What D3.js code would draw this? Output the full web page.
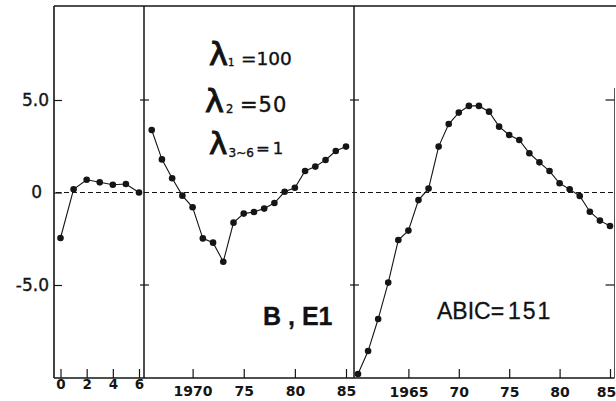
<!DOCTYPE html>
<html>
<head>
<meta charset="utf-8">
<script src="https://cdn.jsdelivr.net/npm/d3@7"></script>
<style>
  body { margin: 0; background: #fff; }
  text { fill: #111; }
</style>
</head>
<body>
<svg width="616" height="401"></svg>
<script>
// lag panel (0..6)
const lagX = [0, 1, 2, 3, 4, 5, 6];
const lagValues = [-2.46, 0.17, 0.69, 0.55, 0.42, 0.46, 0.0];

// middle panel, 1966-1985
const midYears = [1966, 1967, 1968, 1969, 1970, 1971, 1972, 1973, 1974, 1975,
                  1976, 1977, 1978, 1979, 1980, 1981, 1982, 1983, 1984, 1985];
const midValues = [3.38, 1.79, 0.77, -0.17, -0.8, -2.48, -2.71, -3.74, -1.63, -1.14,
                   -1.05, -0.87, -0.57, 0.04, 0.26, 1.16, 1.4, 1.76, 2.24, 2.48];

// right panel, 1960-1985
const rightYears = [1960, 1961, 1962, 1963, 1964, 1965, 1966, 1967, 1968, 1969,
                    1970, 1971, 1972, 1973, 1974, 1975, 1976, 1977, 1978, 1979,
                    1980, 1981, 1982, 1983, 1984, 1985];
const rightValues = [-9.81, -8.57, -6.84, -4.87, -2.57, -2.06, -0.41, 0.21, 2.48, 3.7,
                     4.32, 4.68, 4.68, 4.37, 3.56, 3.11, 2.84, 2.12, 1.63, 1.16,
                     0.5, 0.17, -0.19, -1.04, -1.52, -1.81];

const yTicks = [5, 0, -5];
const yTickLabels = ["5.0", "0", "-5.0"];
const lagTicks = [0, 2, 4, 6];
const midTicks = [1970, 1975, 1980, 1985];
const midTickLabels = ["1970", "75", "80", "85"];
const rightTicks = [1965, 1970, 1975, 1980, 1985];
const rightTickLabels = ["1965", "70", "75", "80", "85"];

const frameTop = 6, frameBottom = 378, frameLeft = 54, frameRight = 614.5;
const div1 = 144, div2 = 354;

const svg = d3.select("svg");
const ink = "#151515";
const numFont = "DejaVu Sans, sans-serif";

const y = d3.scaleLinear().domain([-10, 10]).range([377.5, 7.5]);

const panels = [
  { xs: lagX, vs: lagValues,
    x: d3.scaleLinear().domain([0, 6]).range([60.5, 139]),
    ticks: lagTicks, labels: lagTicks.map(String), pad: 1, size: 13.5 },
  { xs: midYears, vs: midValues,
    x: d3.scaleLinear().domain([1966, 1985]).range([151.7, 346]),
    ticks: midTicks, labels: midTickLabels, pad: 8, size: 14 },
  { xs: rightYears, vs: rightValues,
    x: d3.scaleLinear().domain([1960, 1985]).range([358, 610]),
    ticks: rightTicks, labels: rightTickLabels, pad: 9, size: 14 }
];

// zero reference line
svg.append("line")
  .attr("x1", frameLeft + 2).attr("x2", frameRight)
  .attr("y1", y(0)).attr("y2", y(0))
  .attr("stroke", ink).attr("stroke-width", 1)
  .attr("stroke-dasharray", "5,3");

// frame
const frame = svg.append("g").attr("stroke", ink).attr("fill", "none");
frame.append("line").attr("x1", frameLeft).attr("x2", 616).attr("y1", frameTop).attr("y2", frameTop).attr("stroke-width", 1.6);
frame.append("line").attr("x1", frameLeft).attr("x2", frameRight).attr("y1", frameBottom).attr("y2", frameBottom).attr("stroke-width", 1.6);
frame.append("line").attr("x1", frameLeft).attr("x2", frameLeft).attr("y1", frameTop).attr("y2", frameBottom).attr("stroke-width", 1.6);
frame.append("line").attr("x1", div1).attr("x2", div1).attr("y1", frameTop).attr("y2", frameBottom).attr("stroke-width", 1.5);
frame.append("line").attr("x1", div2).attr("x2", div2).attr("y1", frameTop).attr("y2", frameBottom).attr("stroke-width", 1.5);
frame.append("line").attr("x1", frameRight).attr("x2", frameRight).attr("y1", 88).attr("y2", frameBottom).attr("stroke-width", 1).attr("stroke", "#555");

// y axis on the left border
const yAxis = svg.append("g")
  .attr("transform", `translate(${frameLeft},0)`)
  .call(d3.axisLeft(y).tickValues(yTicks).tickSize(-8).tickPadding(5)
    .tickFormat((d, i) => yTickLabels[i]));
yAxis.select(".domain").remove();
yAxis.selectAll("line").attr("stroke", ink).attr("stroke-width", 1.2);
yAxis.selectAll("text")
  .style("font-family", numFont).style("font-size", "17px").style("fill", ink)
  .style("stroke", ink).style("stroke-width", 0.35)
  .attr("dx", d => d === 0 ? -7 : 0);

// cross ticks on the dividers, inward ticks on the right border
[div1, div2].forEach(dx => {
  svg.append("g").selectAll("line")
    .data(yTicks.filter(d => d !== 0))
    .join("line")
    .attr("x1", dx - 4).attr("x2", dx + 5)
    .attr("y1", d => y(d)).attr("y2", d => y(d))
    .attr("stroke", ink).attr("stroke-width", 1.2);
});
svg.append("g").selectAll("line")
  .data(yTicks.filter(d => d !== 0))
  .join("line")
  .attr("x1", frameRight - 9).attr("x2", frameRight)
  .attr("y1", d => y(d)).attr("y2", d => y(d))
  .attr("stroke", ink).attr("stroke-width", 1.2);

panels.forEach((p, pi) => {
  const ax = svg.append("g")
    .attr("transform", `translate(0,${frameBottom})`)
    .call(d3.axisBottom(p.x).tickValues(p.ticks).tickSize(-9).tickPadding(p.pad)
      .tickFormat((d, i) => p.labels[i]));
  ax.select(".domain").remove();
  ax.selectAll("line").attr("stroke", ink).attr("stroke-width", 1.2);
  ax.selectAll("text")
    .style("font-family", numFont).style("font-weight", "bold")
    .style("font-size", p.size + "px").style("fill", ink)
    .attr("dx", (d, i) => (pi === 2 && i === p.ticks.length - 1) ? -4 : 0);

  const pts = p.xs.map((d, i) => [d, p.vs[i]]);
  svg.append("path")
    .datum(pts)
    .attr("fill", "none")
    .attr("stroke", ink)
    .attr("stroke-width", 1.1)
    .attr("d", d3.line().x(d => p.x(d[0])).y(d => y(d[1])));
  svg.append("g").selectAll("circle")
    .data(pts)
    .join("circle")
    .attr("cx", d => p.x(d[0]))
    .attr("cy", d => y(d[1]))
    .attr("r", 3.3)
    .attr("fill", ink);
});

// annotations
function label(x, yy, txt, size, opts = {}) {
  return svg.append("text")
    .attr("x", x).attr("y", yy)
    .style("font-family", opts.family || numFont)
    .style("font-size", size + "px")
    .style("font-weight", opts.weight || "normal")
    .style("letter-spacing", (opts.ls || 0) + "px")
    .style("stroke", ink)
    .style("stroke-width", opts.sw || 0.4)
    .text(txt);
}

label(209, 65, "λ", 32, { sw: 1 });
label(228, 66, "1", 10);
label(241, 65, "=100", 18.5);

label(205, 111.5, "λ", 32, { sw: 1 });
label(226, 113, "2", 11.5);
label(240, 111.5, "=50", 21, { ls: 1 });

label(209, 153.5, "λ", 31, { sw: 1 });
label(228.5, 157, "3~6", 12);
label(256, 153.5, "=1", 16.5, { ls: 3 });

label(263, 325, "B , E1", 25, { family: "Liberation Sans, Arial, sans-serif", weight: "bold", sw: 0.3 });
label(437, 318.5, "ABIC=", 23, { family: "Liberation Sans, Arial, sans-serif", sw: 0.3 });
label(508, 318.5, "151", 23, { family: "Liberation Sans, Arial, sans-serif", ls: 2, sw: 0.3 });
</script>
</body>
</html>
